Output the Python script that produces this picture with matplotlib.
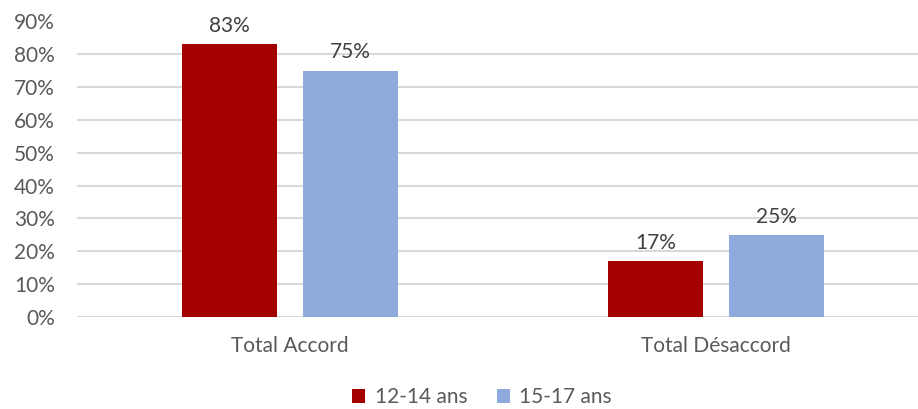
import numpy as np
import matplotlib.pyplot as plt
from matplotlib.ticker import PercentFormatter

plt.rcParams['font.family'] = ['Lato', 'DejaVu Sans']

# données
categories = ['Total Accord', 'Total Désaccord']
series_names = ['12-14 ans', '15-17 ans']
val_12_14 = [0.83, 0.17]
val_15_17 = [0.75, 0.25]
labels_12_14 = ['83%', '17%']
labels_15_17 = ['75%', '25%']

c_red = '#A50000'
c_blue = '#8FAADC'
c_text = '#595959'

fig = plt.figure(figsize=(9.18, 4.09), dpi=100)
ax = fig.add_axes([77 / 918, 1 - 317 / 409, 852 / 918, (317 - 21.5) / 409])

x = np.arange(len(categories))
w = 0.225
off = 0.142
b1 = ax.bar(x - off, val_12_14, w, color=c_red, label=series_names[0], zorder=3)
b2 = ax.bar(x + off, val_15_17, w, color=c_blue, label=series_names[1], zorder=3)

for bars, labs in [(b1, labels_12_14), (b2, labels_15_17)]:
    for rect, lab in zip(bars, labs):
        ax.annotate(lab, (rect.get_x() + rect.get_width() / 2, rect.get_height()),
                    xytext=(0, 6), textcoords='offset points', ha='center', va='bottom',
                    fontsize=15, color='#404040')

ax.set_xlim(-0.5, 1.5)
ax.set_ylim(0, 0.9)
ax.set_yticks(np.arange(0, 0.91, 0.1))
ax.yaxis.set_major_formatter(PercentFormatter(1.0, decimals=0))
ax.set_xticks(x)
ax.set_xticklabels(categories)
ax.tick_params(axis='both', length=0, labelsize=15, labelcolor=c_text)
ax.tick_params(axis='y', pad=16)
ax.tick_params(axis='x', pad=14)
ax.grid(axis='y', color='#D9D9D9', linewidth=1.5, zorder=0)
for s in ax.spines.values():
    s.set_visible(False)

fig.legend(loc='center', bbox_to_anchor=(482 / 918, 1 - 397 / 409), ncol=2, frameon=False,
           fontsize=15, labelcolor=c_text, handlelength=0.65, handleheight=0.65,
           handletextpad=0.45, columnspacing=1.4)

fig.savefig('out.png', dpi=100)
